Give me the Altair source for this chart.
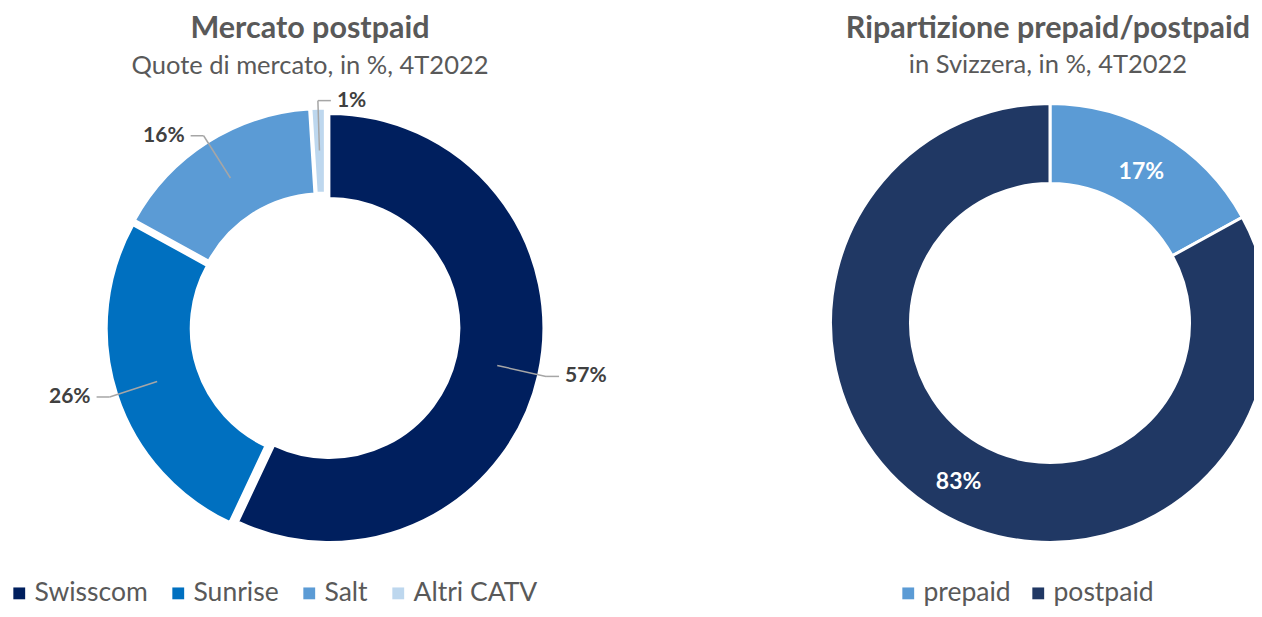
import altair as alt
import pandas as pd

# ---------------- data ----------------
left_names = ["Swisscom", "Sunrise", "Salt", "Altri CATV"]
left_values = [57, 26, 16, 1]
left_colors = ["#001f5e", "#0070c0", "#5b9bd5", "#bdd7ee"]

right_names = ["prepaid", "postpaid"]
right_values = [17, 83]
right_colors = ["#5b9bd5", "#203864"]

left_title = "Mercato postpaid"
left_subtitle = "Quote di mercato, in %, 4T2022"
right_title = "Ripartizione prepaid/postpaid"
right_subtitle = "in Svizzera, in %, 4T2022"

# ---------------- layout ----------------
W, H = 1246, 601
FONT = "Lato"
CXL, CYL = 317, 319      # left donut centre
CXR, CYR = 1042, 315     # right donut centre
RL_OUT, RL_IN = 214, 130
RR_OUT, RR_IN = 219.5, 139.5
EXP = 4.5                # explode offset of left slices
R1, R2, HL, GAP = 172, 222, 13, 6

theta_scale = alt.Scale(domain=[0, 1], range=[0, 6.283185307179586])

def base(names, values):
    df = pd.DataFrame({"name": names, "value": values, "idx": list(range(len(names)))})
    return (
        alt.Chart(df)
        .transform_joinaggregate(total="sum(value)")
        .transform_window(cum="sum(value)", sort=[alt.SortField("idx")], frame=[None, 0])
        .transform_calculate(
            s1="datum.cum / datum.total",
            s0="(datum.cum - datum.value) / datum.total",
        )
        .transform_calculate(mid="PI * (datum.s0 + datum.s1)", label="datum.value + '%'")
    )

def legend(x, y, pad):
    return alt.Legend(
        orient="none", legendX=x, legendY=y, direction="horizontal", title=None,
        symbolType="square", symbolSize=140, symbolStrokeWidth=0, labelFontSize=26.5,
        labelFont=FONT, labelColor="#595959", columnPadding=pad, labelOffset=2, padding=0,
    )

# ---------- left donut ----------
lb = base(left_names, left_values).transform_calculate(
    ex=f"{CXL} + {EXP} * sin(datum.mid)",
    ey=f"{CYL} - {EXP} * cos(datum.mid)",
    side="(sin(datum.mid) >= 0 || cos(datum.mid) > 0.99) ? 1 : -1",
).transform_calculate(
    p1x=f"datum.ex + {R1} * sin(datum.mid)",
    p1y=f"datum.ey - {R1} * cos(datum.mid)",
    p2x=f"datum.ex + {R2} * sin(datum.mid)",
    p2y=f"datum.ey - {R2} * cos(datum.mid)",
).transform_calculate(
    p3x=f"datum.p2x + datum.side * {HL}",
).transform_calculate(
    lx=f"datum.p3x + datum.side * {GAP}",
)

left_arc = lb.mark_arc(radius=RL_OUT, radius2=RL_IN, stroke="white", strokeWidth=2).encode(
    theta=alt.Theta("s0:Q", scale=theta_scale),
    theta2="s1:Q",
    x=alt.X("ex:Q", scale=None),
    y=alt.Y("ey:Q", scale=None),
    color=alt.Color(
        "name:N",
        scale=alt.Scale(domain=left_names, range=left_colors),
        sort=None,
        legend=legend(-2, 572, 17),
    ),
    order=alt.Order("idx:Q"),
)

lead1 = lb.mark_rule(color="#a6a6a6", strokeWidth=1.5).encode(
    x=alt.X("p1x:Q", scale=None), y=alt.Y("p1y:Q", scale=None),
    x2="p2x:Q", y2="p2y:Q",
)
lead2 = lb.mark_rule(color="#a6a6a6", strokeWidth=1.5).encode(
    x=alt.X("p2x:Q", scale=None), y=alt.Y("p2y:Q", scale=None),
    x2="p3x:Q", y2="p2y:Q",
)
lab_r = lb.transform_filter("datum.side > 0").mark_text(
    align="left", baseline="middle", font=FONT, fontSize=21, fontWeight="bold", color="#404040"
).encode(x=alt.X("lx:Q", scale=None), y=alt.Y("p2y:Q", scale=None), text="label:N")
lab_l = lb.transform_filter("datum.side < 0").mark_text(
    align="right", baseline="middle", font=FONT, fontSize=21, fontWeight="bold", color="#404040"
).encode(x=alt.X("lx:Q", scale=None), y=alt.Y("p2y:Q", scale=None), text="label:N")

# ---------- right donut ----------
rb = base(right_names, right_values).transform_calculate(
    lx=f"{CXR} + {(RR_OUT + RR_IN) / 2} * sin(datum.mid)",
    ly=f"{CYR} - {(RR_OUT + RR_IN) / 2} * cos(datum.mid)",
)
right_arc = rb.mark_arc(radius=RR_OUT, radius2=RR_IN, stroke="white", strokeWidth=3).encode(
    theta=alt.Theta("s0:Q", scale=theta_scale),
    theta2="s1:Q",
    x=alt.value(CXR),
    y=alt.value(CYR),
    color=alt.Color(
        "name:N",
        scale=alt.Scale(domain=right_names, range=right_colors),
        sort=None,
        legend=legend(887, 572, 14),
    ),
    order=alt.Order("idx:Q"),
)
right_lab = rb.mark_text(
    align="center", baseline="middle", font=FONT, fontSize=23, fontWeight="bold",
    color="white", dy=4,
).encode(x=alt.X("lx:Q", scale=None), y=alt.Y("ly:Q", scale=None), text="label:N")

# ---------- titles ----------
def text_layer(txt, x, y, size, weight):
    return alt.Chart(pd.DataFrame({"t": [txt]})).mark_text(
        align="center", baseline="alphabetic", font=FONT, fontSize=size,
        fontWeight=weight, color="#595959",
    ).encode(x=alt.value(x), y=alt.value(y), text="t:N")

titles = [
    text_layer(left_title, 302, 30, 30.5, "bold"),
    text_layer(left_subtitle, 302, 66, 25.5, "normal"),
    text_layer(right_title, 1040, 30, 30.5, "bold"),
    text_layer(right_subtitle, 1040, 65, 25.5, "normal"),
]

chart = (
    alt.layer(left_arc, lead1, lead2, lab_r, lab_l, right_arc, right_lab, *titles)
    .resolve_scale(color="independent")
    .properties(width=W, height=H, padding=0, autosize=alt.AutoSizeParams(type="none"))
    .configure(font=FONT, view=alt.ViewConfig(strokeWidth=0, stroke="transparent"))
)

chart.save("out.html", embed_options={"renderer": "svg", "actions": False})
